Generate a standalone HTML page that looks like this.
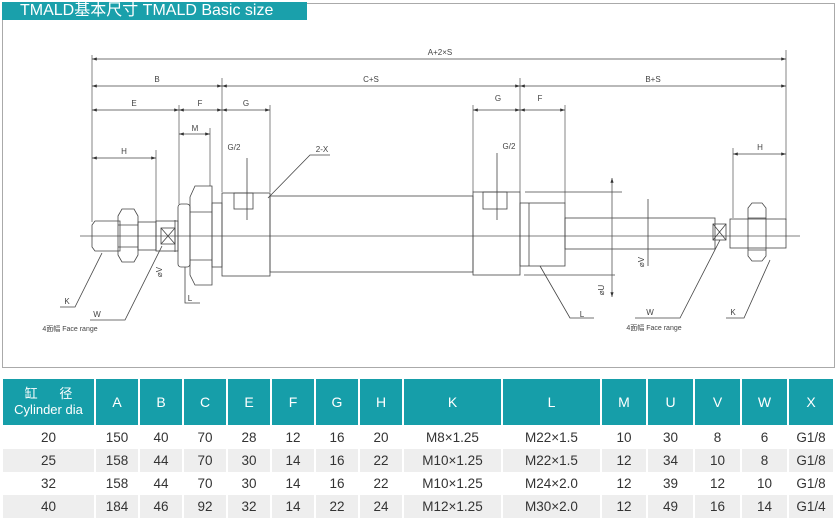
<!DOCTYPE html>
<html><head><meta charset="utf-8"><style>
body{margin:0;width:840px;height:529px;background:#fff;overflow:hidden;font-family:"Liberation Sans","Noto Sans CJK SC",sans-serif;position:relative}
.title{position:absolute;left:2px;top:2px;width:305px;height:18px;background:#1aa0ab;color:#fff;font-size:16px;line-height:18px;padding-left:18px;box-sizing:border-box;white-space:nowrap}
.frame{position:absolute;left:2px;top:3px;width:833px;height:365px;border:1px solid #aaa;box-sizing:border-box}
svg{position:absolute;left:0;top:0}
table{position:absolute;left:3px;top:379px;border-collapse:collapse;table-layout:fixed}
td{text-align:center;font-size:13.5px;color:#333;height:23px;padding:0;border-right:2px solid #fff}
tr.h td{background:#169ea9;color:#fff;height:46px;font-size:14px;border-right:2px solid #fff;border-bottom:1px solid #fff}
tr.g td{background:#eeeeee}
</style></head><body>
<div class="frame"></div>
<div class="title">TMALD基本尺寸 TMALD Basic size</div>
<svg width="840" height="370" viewBox="0 0 840 370" fill="none" stroke="#444" stroke-width="0.8" font-family="Liberation Sans, sans-serif" font-size="8">
<defs><marker id="a" viewBox="0 0 6 4" refX="6" refY="2" markerWidth="6" markerHeight="4" orient="auto-start-reverse"><path d="M0 0L6 2L0 4z" fill="#333" stroke="none"/></marker></defs>
<g stroke="#666">
<line x1="92" y1="55" x2="92" y2="222"/><line x1="786" y1="50" x2="786" y2="220"/>
<line x1="222" y1="78" x2="222" y2="192"/><line x1="520" y1="78" x2="520" y2="192"/>
<line x1="179" y1="105" x2="179" y2="204"/><line x1="270" y1="105" x2="270" y2="192"/>
<line x1="473" y1="105" x2="473" y2="192"/><line x1="565" y1="105" x2="565" y2="203"/>
<line x1="210" y1="128" x2="210" y2="186"/>
<line x1="156" y1="150" x2="156" y2="222"/><line x1="733" y1="148" x2="733" y2="218"/>
</g>
<g stroke="#444" marker-start="url(#a)" marker-end="url(#a)">
<line x1="92" y1="59" x2="786" y2="59"/>
<line x1="92" y1="86" x2="222" y2="86"/><line x1="222" y1="86" x2="520" y2="86"/><line x1="520" y1="86" x2="786" y2="86"/>
<line x1="92" y1="110" x2="179" y2="110"/><line x1="179" y1="110" x2="222" y2="110"/><line x1="222" y1="110" x2="270" y2="110"/>
<line x1="473" y1="110" x2="520" y2="110"/><line x1="520" y1="110" x2="565" y2="110"/>
<line x1="179" y1="134" x2="210" y2="134"/>
<line x1="92" y1="158" x2="156" y2="158"/><line x1="733" y1="154" x2="786" y2="154"/>
</g>
<g fill="#444" stroke="none" text-anchor="middle">
<text x="440" y="55">A+2×S</text><text x="157" y="82">B</text><text x="371" y="82">C+S</text><text x="653" y="82">B+S</text>
<text x="134" y="106">E</text><text x="200" y="106">F</text><text x="246" y="106">G</text><text x="498" y="101">G</text><text x="540" y="101">F</text>
<text x="195" y="131">M</text><text x="124" y="154">H</text><text x="760" y="150">H</text>
<text x="234" y="150">G/2</text><text x="509" y="149">G/2</text><text x="322" y="152">2-X</text>
<text x="67" y="304">K</text><text x="97" y="317">W</text><text x="650" y="315">W</text><text x="733" y="315">K</text>
<text x="190" y="301">L</text><text x="582" y="317">L</text>
<text x="70" y="331" font-size="7">4面幅 Face range</text><text x="654" y="330" font-size="7">4面幅 Face range</text>
<text x="162" y="272" transform="rotate(-90 162 272)">⌀V</text><text x="644" y="262" transform="rotate(-90 644 262)">⌀V</text><text x="604" y="290" transform="rotate(-90 604 290)">⌀U</text>
</g>
<line x1="80" y1="236" x2="800" y2="236" stroke="#555"/>
<path d="M95 221H120V251H95L92 247V225Z"/>
<path d="M118 216L122 209H134L138 216V255L134 262H122L118 255Z"/><line x1="118" y1="225" x2="138" y2="225"/><line x1="118" y1="247" x2="138" y2="247"/>
<rect x="138" y="222" width="18" height="28"/>
<rect x="156" y="221" width="22" height="30"/>
<rect x="161" y="228" width="14" height="16"/><path d="M161 228L175 244M175 228L161 244"/>
<rect x="178" y="204" width="12" height="63" rx="3"/>
<path d="M190 197L195 186H212V285H195L190 275Z"/><line x1="190" y1="212" x2="212" y2="212"/><line x1="190" y1="260" x2="212" y2="260"/>
<rect x="212" y="203" width="10" height="64"/>
<rect x="222" y="193" width="48" height="83"/><rect x="234" y="193" width="19" height="16"/><line x1="247" y1="158" x2="247" y2="220"/>
<rect x="270" y="196" width="203" height="76"/>
<rect x="473" y="192" width="47" height="83"/><rect x="483" y="192" width="24" height="17"/><line x1="497" y1="153" x2="497" y2="220"/>
<rect x="520" y="203" width="45" height="63"/><line x1="529" y1="203" x2="529" y2="266"/>
<rect x="565" y="218" width="150" height="31"/>
<rect x="713" y="224" width="13" height="16"/><path d="M713 224L726 240M726 224L713 240"/>
<rect x="730" y="219" width="56" height="29"/>
<path d="M748 208L752 203H762L766 208V256L762 261H752L748 256Z"/><line x1="748" y1="218" x2="766" y2="218"/><line x1="748" y1="250" x2="766" y2="250"/>
<line x1="525" y1="192" x2="622" y2="192"/><line x1="524" y1="275" x2="615" y2="275"/>
<line x1="612" y1="178" x2="612" y2="297" marker-start="url(#a)" marker-end="url(#a)" stroke="#555"/>
<line x1="648" y1="199" x2="648" y2="266"/>
<line x1="175" y1="220" x2="175" y2="252"/>
<path d="M60 307H75L102 253"/><path d="M90 320H125L162 246"/>
<path d="M185 267V303H200"/><path d="M540 266L570 318H594"/>
<path d="M635 318H680L720 240"/><path d="M726 318H744L770 260"/>
<path d="M268 198L310 155H330"/>
</svg>
<table>
<colgroup><col style="width:92px"><col style="width:44px"><col style="width:44px"><col style="width:44px"><col style="width:44px"><col style="width:44px"><col style="width:44px"><col style="width:44px"><col style="width:99px"><col style="width:99px"><col style="width:46px"><col style="width:47px"><col style="width:47px"><col style="width:47px"><col style="width:46px"></colgroup>
<tr class="h"><td style="font-size:13px;line-height:16px">缸&nbsp;&nbsp;&nbsp;&nbsp;&nbsp;&nbsp;径<br>Cylinder dia</td><td>A</td><td>B</td><td>C</td><td>E</td><td>F</td><td>G</td><td>H</td><td>K</td><td>L</td><td>M</td><td>U</td><td>V</td><td>W</td><td>X</td></tr>
<tr><td>20</td><td>150</td><td>40</td><td>70</td><td>28</td><td>12</td><td>16</td><td>20</td><td>M8×1.25</td><td>M22×1.5</td><td>10</td><td>30</td><td>8</td><td>6</td><td>G1/8</td></tr>
<tr class="g"><td>25</td><td>158</td><td>44</td><td>70</td><td>30</td><td>14</td><td>16</td><td>22</td><td>M10×1.25</td><td>M22×1.5</td><td>12</td><td>34</td><td>10</td><td>8</td><td>G1/8</td></tr>
<tr><td>32</td><td>158</td><td>44</td><td>70</td><td>30</td><td>14</td><td>16</td><td>22</td><td>M10×1.25</td><td>M24×2.0</td><td>12</td><td>39</td><td>12</td><td>10</td><td>G1/8</td></tr>
<tr class="g"><td>40</td><td>184</td><td>46</td><td>92</td><td>32</td><td>14</td><td>22</td><td>24</td><td>M12×1.25</td><td>M30×2.0</td><td>12</td><td>49</td><td>16</td><td>14</td><td>G1/4</td></tr>
</table>
</body></html>
